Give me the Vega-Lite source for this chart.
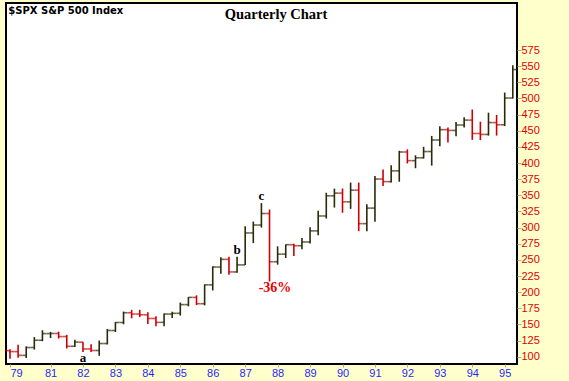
{
  "$schema": "https://vega.github.io/schema/vega-lite/v6.json",
  "width": 511,
  "height": 361,
  "autosize": "none",
  "padding": {"left": 6, "top": 3, "right": 52, "bottom": 17},
  "background": "#ffffcc",
  "view": {"fill": "white", "stroke": "black", "strokeWidth": 2},
  "config": {"axis": {"labelOverlap": false, "labelBound": false, "labelFlush": false}},
  "data": {
    "values": [
      {"t": 1979.75, "o": 109.3, "h": 111.5, "l": 97.0, "c": 107.9},
      {"t": 1980.0, "o": 107.9, "h": 118.4, "l": 98.2, "c": 102.1},
      {"t": 1980.25, "o": 102.1, "h": 116.0, "l": 98.0, "c": 114.2},
      {"t": 1980.5, "o": 114.2, "h": 130.4, "l": 111.1, "c": 125.5},
      {"t": 1980.75, "o": 125.5, "h": 141.0, "l": 124.0, "c": 135.8},
      {"t": 1981.0, "o": 135.8, "h": 138.4, "l": 128.9, "c": 136.0},
      {"t": 1981.25, "o": 136.0, "h": 138.8, "l": 128.2, "c": 131.2},
      {"t": 1981.5, "o": 131.2, "h": 133.9, "l": 112.8, "c": 116.2},
      {"t": 1981.75, "o": 116.2, "h": 126.3, "l": 115.0, "c": 122.6},
      {"t": 1982.0, "o": 122.6, "h": 122.7, "l": 107.3, "c": 112.0},
      {"t": 1982.25, "o": 112.0, "h": 119.3, "l": 107.2, "c": 109.6},
      {"t": 1982.5, "o": 109.6, "h": 125.0, "l": 101.4, "c": 120.4},
      {"t": 1982.75, "o": 120.4, "h": 143.0, "l": 119.0, "c": 140.6},
      {"t": 1983.0, "o": 140.6, "h": 153.7, "l": 138.3, "c": 153.0},
      {"t": 1983.25, "o": 153.0, "h": 169.9, "l": 150.2, "c": 168.1},
      {"t": 1983.5, "o": 168.1, "h": 172.6, "l": 159.5, "c": 166.1},
      {"t": 1983.75, "o": 166.1, "h": 172.6, "l": 161.3, "c": 164.9},
      {"t": 1984.0, "o": 164.9, "h": 169.0, "l": 150.8, "c": 159.2},
      {"t": 1984.25, "o": 159.2, "h": 162.8, "l": 147.3, "c": 153.2},
      {"t": 1984.5, "o": 153.2, "h": 167.0, "l": 147.3, "c": 166.1},
      {"t": 1984.75, "o": 166.1, "h": 169.6, "l": 160.0, "c": 167.2},
      {"t": 1985.0, "o": 167.2, "h": 183.9, "l": 163.7, "c": 180.7},
      {"t": 1985.25, "o": 180.7, "h": 192.3, "l": 178.0, "c": 191.9},
      {"t": 1985.5, "o": 191.9, "h": 195.0, "l": 180.0, "c": 182.1},
      {"t": 1985.75, "o": 182.1, "h": 212.0, "l": 179.5, "c": 211.3},
      {"t": 1986.0, "o": 211.3, "h": 240.0, "l": 202.6, "c": 238.9},
      {"t": 1986.25, "o": 238.9, "h": 254.0, "l": 228.4, "c": 250.8},
      {"t": 1986.5, "o": 250.8, "h": 254.9, "l": 226.9, "c": 231.3},
      {"t": 1986.75, "o": 231.3, "h": 254.9, "l": 229.9, "c": 242.2},
      {"t": 1987.0, "o": 242.2, "h": 301.9, "l": 242.0, "c": 291.7},
      {"t": 1987.25, "o": 291.7, "h": 309.3, "l": 276.0, "c": 304.0},
      {"t": 1987.5, "o": 304.0, "h": 337.9, "l": 300.0, "c": 321.8},
      {"t": 1987.75, "o": 321.8, "h": 328.0, "l": 216.5, "c": 247.1},
      {"t": 1988.0, "o": 247.1, "h": 271.0, "l": 242.6, "c": 258.9},
      {"t": 1988.25, "o": 258.9, "h": 274.0, "l": 253.0, "c": 273.5},
      {"t": 1988.5, "o": 273.5, "h": 274.9, "l": 256.0, "c": 271.9},
      {"t": 1988.75, "o": 271.9, "h": 283.7, "l": 266.5, "c": 277.7},
      {"t": 1989.0, "o": 277.7, "h": 300.6, "l": 275.3, "c": 294.9},
      {"t": 1989.25, "o": 294.9, "h": 326.0, "l": 288.3, "c": 318.0},
      {"t": 1989.5, "o": 318.0, "h": 354.0, "l": 314.0, "c": 349.2},
      {"t": 1989.75, "o": 349.2, "h": 360.4, "l": 331.0, "c": 353.4},
      {"t": 1990.0, "o": 353.4, "h": 360.6, "l": 323.0, "c": 339.9},
      {"t": 1990.25, "o": 339.9, "h": 369.8, "l": 329.0, "c": 358.0},
      {"t": 1990.5, "o": 358.0, "h": 369.8, "l": 294.5, "c": 306.1},
      {"t": 1990.75, "o": 306.1, "h": 336.0, "l": 294.5, "c": 330.2},
      {"t": 1991.0, "o": 330.2, "h": 380.0, "l": 309.0, "c": 375.2},
      {"t": 1991.25, "o": 375.2, "h": 390.0, "l": 364.5, "c": 371.2},
      {"t": 1991.5, "o": 371.2, "h": 396.6, "l": 370.0, "c": 387.9},
      {"t": 1991.75, "o": 387.9, "h": 419.0, "l": 371.0, "c": 417.1},
      {"t": 1992.0, "o": 417.1, "h": 421.2, "l": 399.3, "c": 403.7},
      {"t": 1992.25, "o": 403.7, "h": 412.0, "l": 392.0, "c": 408.1},
      {"t": 1992.5, "o": 408.1, "h": 425.1, "l": 407.0, "c": 417.8},
      {"t": 1992.75, "o": 417.8, "h": 442.0, "l": 396.0, "c": 435.7},
      {"t": 1993.0, "o": 435.7, "h": 456.9, "l": 426.0, "c": 451.7},
      {"t": 1993.25, "o": 451.7, "h": 455.0, "l": 432.0, "c": 450.5},
      {"t": 1993.5, "o": 450.5, "h": 463.6, "l": 441.4, "c": 458.9},
      {"t": 1993.75, "o": 458.9, "h": 470.9, "l": 455.0, "c": 466.5},
      {"t": 1994.0, "o": 466.5, "h": 482.9, "l": 435.9, "c": 445.8},
      {"t": 1994.25, "o": 445.8, "h": 464.0, "l": 435.5, "c": 444.3},
      {"t": 1994.5, "o": 444.3, "h": 478.0, "l": 442.5, "c": 462.7},
      {"t": 1994.75, "o": 462.7, "h": 474.5, "l": 442.5, "c": 459.3},
      {"t": 1995.0, "o": 459.3, "h": 509.2, "l": 457.2, "c": 500.7},
      {"t": 1995.25, "o": 500.7, "h": 551.5, "l": 500.0, "c": 544.8}
    ]
  },
  "layer": [
    {
      "mark": {"type": "rule", "strokeWidth": 1.6},
      "encoding": {
        "x": {
          "field": "t", "type": "quantitative",
          "scale": {"domain": [1979.627, 1995.379], "nice": false, "zero": false},
          "axis": {
            "values": [1979.75, 1981, 1982, 1983, 1984, 1985, 1986, 1987, 1988, 1989, 1990, 1991, 1992, 1993, 1994, 1995],
            "tickCount": 100,
            "labelExpr": "substring(toString(floor(datum.value)), 2)",
            "labelAlign": {"condition": {"test": "datum.value < 1980", "value": "left"}, "value": "center"},
            "labelFlush": false,
            "labelOverlap": false,
            "labelBound": false,
            "grid": false,
            "domain": false,
            "ticks": true,
            "tickColor": "#aaaaaa",
            "tickSize": 3,
            "labelPadding": 0,
            "labelColor": "#1f1fff",
            "labelFont": "Liberation Sans",
            "labelFontSize": 11,
            "title": null
          }
        },
        "y": {
          "field": "l", "type": "quantitative",
          "scale": {"domain": [88.7, 647.9], "nice": false, "zero": false},
          "axis": {
            "orient": "right",
            "values": [100, 125, 150, 175, 200, 225, 250, 275, 300, 325, 350, 375, 400, 425, 450, 475, 500, 525, 550, 575],
            "tickCount": 100,
            "labelOverlap": false,
            "labelFlush": false,
            "grid": false,
            "domain": false,
            "tickColor": "#aaaaaa",
            "tickSize": 4,
            "labelPadding": 0,
            "labelColor": "#e00000",
            "labelFont": "Liberation Sans",
            "labelFontSize": 11,
            "title": null
          }
        },
        "y2": {"field": "h"},
        "color": {"condition": {"test": "datum.c < datum.o", "value": "#cc0000"}, "value": "#2a2a08"}
      }
    },
    {
      "mark": {"type": "tick", "orient": "horizontal", "size": 4, "thickness": 1.6, "xOffset": -2},
      "encoding": {
        "x": {"field": "t", "type": "quantitative"},
        "y": {"field": "o", "type": "quantitative"},
        "color": {"condition": {"test": "datum.c < datum.o", "value": "#cc0000"}, "value": "#2a2a08"}
      }
    },
    {
      "mark": {"type": "tick", "orient": "horizontal", "size": 4, "thickness": 1.6, "xOffset": 2},
      "encoding": {
        "x": {"field": "t", "type": "quantitative"},
        "y": {"field": "c", "type": "quantitative"},
        "color": {"condition": {"test": "datum.c < datum.o", "value": "#cc0000"}, "value": "#2a2a08"}
      }
    },
    {
      "data": {"values": [
        {"t": 1982.0, "v": 92.3, "label": "a"},
        {"t": 1986.75, "v": 258.6, "label": "b"},
        {"t": 1987.5, "v": 342.7, "label": "c"}
      ]},
      "mark": {"type": "text", "font": "Liberation Serif", "fontSize": 13, "fontWeight": "bold", "color": "black", "align": "center", "baseline": "alphabetic"},
      "encoding": {
        "x": {"field": "t", "type": "quantitative"},
        "y": {"field": "v", "type": "quantitative"},
        "text": {"field": "label"}
      }
    },
    {
      "data": {"values": [{"t": 1987.92, "v": 200.7, "label": "-36%"}]},
      "mark": {"type": "text", "font": "Liberation Serif", "fontSize": 14, "fontWeight": "bold", "color": "#ee0000", "align": "center", "baseline": "alphabetic"},
      "encoding": {
        "x": {"field": "t", "type": "quantitative"},
        "y": {"field": "v", "type": "quantitative"},
        "text": {"field": "label"}
      }
    },
    {
      "data": {"values": [{"t": 1987.95, "v": 623.1, "label": "Quarterly Chart"}]},
      "mark": {"type": "text", "font": "Liberation Serif", "fontSize": 14.5, "fontWeight": "bold", "color": "black", "align": "center", "baseline": "alphabetic"},
      "encoding": {
        "x": {"field": "t", "type": "quantitative"},
        "y": {"field": "v", "type": "quantitative"},
        "text": {"field": "label"}
      }
    },
    {
      "data": {"values": [{"t": 1979.698, "v": 630.4, "label": "$SPX S&P 500 Index"}]},
      "mark": {"type": "text", "font": "DejaVu Sans", "fontSize": 10, "fontWeight": "bold", "color": "black", "align": "left", "baseline": "alphabetic"},
      "encoding": {
        "x": {"field": "t", "type": "quantitative"},
        "y": {"field": "v", "type": "quantitative"},
        "text": {"field": "label"}
      }
    }
  ]
}
